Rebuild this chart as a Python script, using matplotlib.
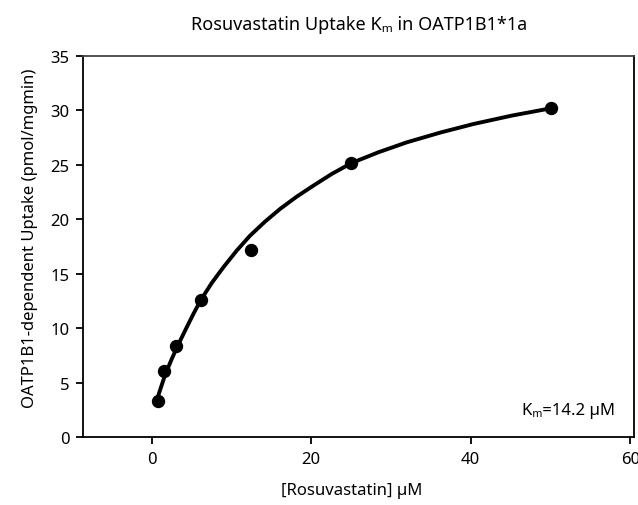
import matplotlib.pyplot as plt

plt.rcParams['font.family'] = ['Noto Sans', 'DejaVu Sans']

# measured points
conc = [0.78125, 1.5625, 3.125, 6.25, 12.5, 25, 50]
uptake = [3.36, 6.11, 8.35, 12.62, 17.18, 25.16, 30.17]

# fitted curve
fit_x = [0.77, 1.69, 2.53, 3.24, 4.41, 5.24, 6.20, 7.54, 9.00, 10.67, 12.34, 14.22,
         16.10, 18.19, 20.28, 22.58, 25.08, 28.43, 31.98, 36.15, 40.33, 45.13, 50.02]
fit_y = [3.67, 5.71, 7.18, 8.34, 10.09, 11.31, 12.62, 14.15, 15.59, 17.12, 18.49, 19.78,
         20.94, 22.07, 23.08, 24.15, 25.16, 26.14, 27.05, 27.94, 28.73, 29.50, 30.17]

x_ticks = [0, 20, 40, 60]
y_ticks = [0, 5, 10, 15, 20, 25, 30, 35]
km_text = "Kₘ=14.2 µM"

fig = plt.figure(figsize=(6.38, 5.06), dpi=100)
ax = fig.add_axes([0.1306, 0.1338, 0.8631, 0.7542])

ax.plot(fit_x, fit_y, color='black', lw=2.8, solid_capstyle='butt',
        solid_joinstyle='round', zorder=2)
ax.plot(conc, uptake, 'o', color='black', ms=8.6, zorder=3)

ax.set_xlim(-8.55, 60.46)
ax.set_ylim(0, 35)
ax.set_xticks(x_ticks)
ax.set_yticks(y_ticks)
ax.tick_params(direction='out', length=5, width=1.3, labelsize=12, colors='black', pad=5)

for s in ax.spines.values():
    s.set_linewidth(1.3)
ax.spines['top'].set_color('#444444')

ax.set_title("Rosuvastatin Uptake Kₘ in OATP1B1*1a", fontsize=13, pad=19)
ax.set_xlabel("[Rosuvastatin] µM", fontsize=12, labelpad=11)
ax.set_ylabel("OATP1B1-dependent Uptake (pmol/mgmin)", fontsize=12, labelpad=9)
ax.xaxis.set_label_coords(0.487, -0.117)
ax.yaxis.set_label_coords(-0.082, 0.525)

ax.text(58.1, 2.5, km_text, ha='right', va='center', fontsize=12)

fig.savefig("out.png", dpi=100)
